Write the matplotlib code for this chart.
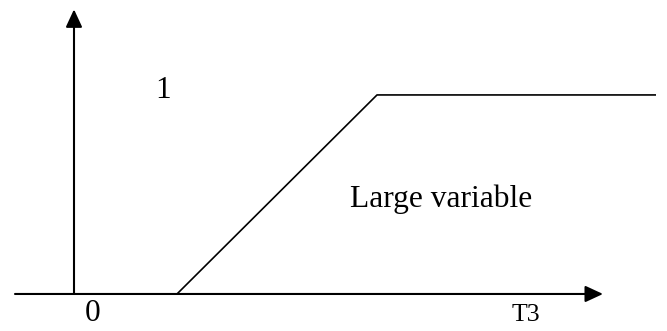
import numpy as np
import matplotlib
matplotlib.use('Agg')
import matplotlib.pyplot as plt

plt.rcParams['font.family'] = ['Liberation Serif', 'DejaVu Serif']

# piecewise line: ramp then plateau
ramp_x = [1.03, 3.03, 5.82]
ramp_y = [0.0, 1.0, 1.0]

# axis extents
x_axis = [-0.59, 5.29]
y_axis = [0.0, 1.43]

# labels
lbl_one = '1'
lbl_zero = '0'
lbl_x = 'T3'
lbl_mid = 'Large variable'

fig = plt.figure(figsize=(6.67, 3.31), dpi=100)
ax = fig.add_axes([0, 0, 1, 1])
ax.set_xlim(-0.74, 5.93)
ax.set_ylim(-0.186, 1.477)
ax.axis('off')

arrow = dict(arrowstyle='-|>,head_length=10.8,head_width=5.0', mutation_scale=1,
             color='black', lw=1.5, shrinkA=0, shrinkB=0)
ax.annotate('', xy=(x_axis[1], 0), xytext=(x_axis[0], 0), arrowprops=arrow)
ax.annotate('', xy=(0, y_axis[1]), xytext=(0, y_axis[0]), arrowprops=arrow)

ax.plot(ramp_x, ramp_y, color='black', lw=1.2, solid_capstyle='butt')

ax.text(0.89, 1.02, lbl_one, fontsize=22.5, ha='center', va='center')
ax.text(0.19, -0.098, lbl_zero, fontsize=22.5, ha='center', va='center')
ax.text(4.52, -0.106, lbl_x, fontsize=18.5, ha='center', va='center')
ax.text(3.67, 0.477, lbl_mid, fontsize=22.7, ha='center', va='center')

fig.savefig('out.png', dpi=100)
